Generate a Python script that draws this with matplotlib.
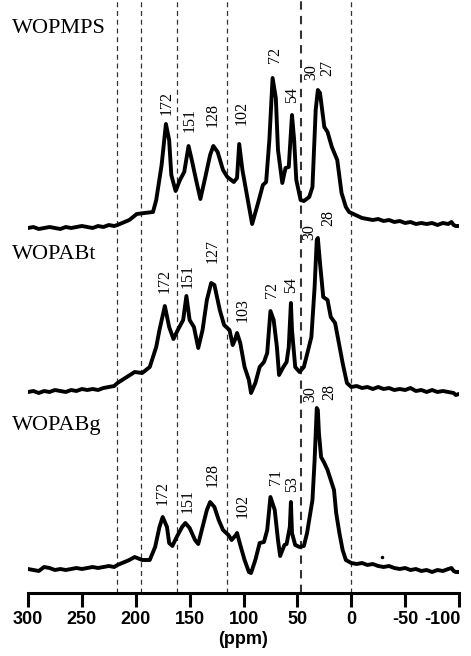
#!/usr/bin/env python3
"""
Solid-state 13C CP/MAS NMR spectra of the three samples, stacked.
Dashed lines mark the chemical shift regions.
"""

import matplotlib

matplotlib.use("Agg")
import matplotlib.pyplot as plt
from matplotlib.transforms import ScaledTranslation

# --- data (ppm, intensity above each trace's own baseline) ---
names = ["WOPMPS", "WOPABt", "WOPABg"]

ppm_top = [300, 295, 290, 285, 280, 275, 270, 265, 260, 255, 250, 245, 240, 235, 230, 225,
           220, 217, 206, 199, 192, 184, 181, 176, 172,
           169, 167, 163, 159, 155, 151, 148, 144, 140, 135, 131, 128, 124, 119, 115, 109,
           106, 104, 101, 96, 92, 87, 82, 79, 76, 73, 70, 68, 64, 61, 58, 55, 53, 51, 47,
           44, 39, 36, 33, 31, 29, 25, 22, 18, 13, 9, 5, 2, -10, -15, -20, -25, -30, -35,
           -40, -45, -50, -55, -60, -65, -70, -75, -80, -85, -90, -93, -95, -97, -100]
int_top = [0, 1, -1, 0, 1, 0, -1, 1, 0, 1, 2, 1, 0, 2, 1, 3,
           2, 3, 8, 14, 15, 16, 28, 63, 104,
           88, 53, 37, 48, 56, 82, 68, 48, 29, 53, 73, 82, 76, 58, 51, 46,
           50, 84, 58, 28, 4, 23, 43, 46, 88, 150, 130, 78, 45, 60, 61, 113, 88, 48, 28,
           27, 31, 41, 118, 138, 135, 101, 96, 81, 68, 35, 21, 16, 10, 9, 8, 9, 7, 8,
           6, 7, 5, 6, 4, 5, 4, 5, 3, 5, 4, 6, 3, 2, 2]

ppm_mid = [300, 295, 290, 285, 280, 275, 270, 265, 260, 255, 250, 245, 240, 235, 230, 225,
           220, 217, 201, 194, 187, 181, 178, 173, 169,
           165, 161, 156, 153, 150, 146, 142, 138, 134, 130, 127, 122, 118, 113, 110, 108,
           106, 103, 99, 95, 93, 89, 85, 81, 78, 75, 72, 69, 67, 63, 60, 58, 56, 55, 52,
           48, 44, 40, 37, 34, 32, 31, 29, 26, 22, 19, 15, 12, 8, 4, 0, -5, -10, -15,
           -20, -25, -30, -35, -40, -45, -50, -55, -60, -65, -70, -75, -80, -85, -90,
           -95, -97, -100]
int_mid = [0, 1, -1, 1, 0, 2, 1, 0, 2, 1, 3, 2, 3, 2, 4, 5,
           6, 9, 20, 19, 25, 45, 62, 86, 65,
           53, 62, 72, 96, 72, 65, 44, 62, 92, 109, 107, 82, 67, 62, 47, 52,
           59, 49, 25, 12, -1, 9, 25, 30, 39, 81, 72, 45, 17, 25, 30, 45, 89, 62, 25,
           20, 25, 42, 55, 105, 152, 154, 129, 95, 92, 75, 69, 52, 29, 9, 5, 6, 4, 5,
           3, 5, 3, 4, 2, 3, 2, 4, 1, 2, 0, 2, 0, 1, 0,
           -1, -3, -2]

ppm_bot = [300, 295, 290, 285, 280, 275, 270, 265, 260, 255, 250, 245, 240, 235, 230, 225,
           220, 217, 206, 201, 194, 187, 182, 178, 175, 171,
           169, 166, 162, 157, 154, 150, 145, 142, 138, 134, 131, 127, 123, 119, 114, 111,
           107, 106, 103, 99, 95, 93, 89, 85, 81, 78, 75, 71, 68, 66, 62, 60, 57, 56, 55,
           52, 48, 44, 41, 38, 36, 34, 32, 31, 30, 28, 25, 22, 19, 16, 14, 11, 8, 5, 0,
           -5, -10, -15, -20, -25, -30, -35, -40, -45, -50, -55, -60, -65, -70, -75,
           -80, -85, -90, -93, -95, -97, -100]
int_bot = [0, -1, -2, 2, 1, -1, 0, -1, 0, 1, 0, 1, 2, 1, 2, 3,
           2, 4, 9, 12, 9, 9, 22, 42, 52, 42,
           26, 23, 32, 42, 46, 41, 29, 25, 42, 59, 67, 62, 49, 39, 34, 29,
           34, 36, 24, 9, -3, -4, 9, 26, 27, 39, 72, 59, 29, 13, 24, 25, 42, 67, 36,
           24, 22, 23, 36, 56, 69, 109, 161, 159, 136, 112, 106, 99, 89, 79, 56, 36, 19, 9, 6,
           5, 6, 4, 5, 3, 2, 3, 1, 0, 1, -1, 0, -2, -1, -3,
           -1, -2, 0, 1, -2, -3, -3]

# stray dot below the bottom trace (ppm, height)
stray_ppm = [-29]
stray_int = [12]

# peak labels: (text, ppm position, height above baseline)
peaks_top = [("172", 171, 113), ("151", 150, 96), ("128", 129, 101), ("102", 102, 103),
             ("72", 71, 165), ("54", 55, 125), ("30", 37, 148), ("27", 22, 152)]
peaks_mid = [("172", 173, 99), ("151", 152, 104), ("127", 129, 129), ("103", 101, 70),
             ("72", 74, 94), ("54", 56, 99), ("30", 39, 152), ("28", 21, 166)]
peaks_bot = [("172", 175, 64), ("151", 152, 56), ("128", 129, 82), ("102", 101, 51),
             ("71", 70, 84), ("53", 55, 77), ("30", 38, 167), ("28", 20, 169)]

# region boundaries (ppm)
regions = [217, 195, 162, 115, 47, 0]

xticks = [300, 250, 200, 150, 100, 50, 0, -50, -100]
xtick_labels = ["300", "250", "200", "150", "100", "50", "0", "-50", "-100"]


def main():
    fig = plt.figure(figsize=(4.71, 6.56), dpi=100)
    ax = fig.add_axes([28 / 471, 63 / 656, 431 / 471, 593 / 656])
    ax.set_xlim(300, -100)
    ax.set_ylim(0, 593)

    offsets = [365, 201, 24]
    name_h = [195, 133, 139]
    serif = "Liberation Serif"

    # dashed region lines
    for r in regions:
        lw = 1.5 if r == 47 else 0.9
        ax.axvline(r, color="#333333", lw=lw, linestyle=(0, (4, 3)), zorder=1)

    traces = [(ppm_top, int_top, peaks_top), (ppm_mid, int_mid, peaks_mid),
              (ppm_bot, int_bot, peaks_bot)]
    for (xs, ys, pk), off, nm, nh in zip(traces, offsets, names, name_h):
        ax.plot(xs, [y + off for y in ys], color="black", lw=2.8,
                solid_joinstyle="round", zorder=3)
        for txt, px, ph in pk:
            ax.text(px, ph + off, txt, rotation=90, ha="center", va="bottom",
                    fontsize=11.5, family=serif, zorder=4)
        ax.text(315, nh + off, nm, ha="left", va="baseline", fontsize=16,
                family=serif, clip_on=False)

    ax.plot(stray_ppm, [v + offsets[2] for v in stray_int], "o", color="black", ms=1.5)

    for side in ["top", "left", "right"]:
        ax.spines[side].set_visible(False)
    ax.spines["bottom"].set_linewidth(2.2)
    ax.set_yticks([])
    ax.set_xticks(xticks)
    ax.set_xticklabels(xtick_labels, fontsize=13, fontweight="bold",
                       family="Liberation Sans")
    ax.tick_params(axis="x", direction="out", length=10, width=2.2, pad=3)
    ax.set_xlabel("(ppm)", fontsize=13, fontweight="bold", family="Liberation Sans",
                  labelpad=2)

    # last tick label sits left of its tick so it stays inside the figure
    last = ax.get_xticklabels()[-1]
    last.set_transform(last.get_transform()
                       + ScaledTranslation(-0.17, 0, fig.dpi_scale_trans))

    fig.savefig("out.png", dpi=100)
    plt.close(fig)


if __name__ == "__main__":
    main()
